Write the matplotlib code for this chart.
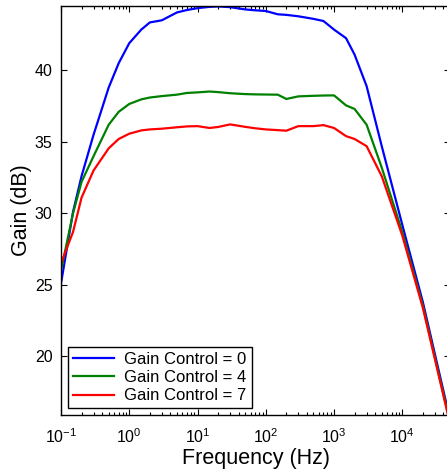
import numpy as np
import matplotlib
matplotlib.use("Agg")
import matplotlib.pyplot as plt
from matplotlib.ticker import LogLocator, NullFormatter

plt.rcParams['font.family'] = ['Liberation Sans', 'DejaVu Sans']
plt.rcParams['mathtext.default'] = 'regular'

freq = [0.1, 0.15, 0.2, 0.3, 0.5, 0.7, 1, 1.5, 2, 3, 5, 7, 10, 15, 20, 30, 50, 70,
        100, 150, 200, 300, 500, 700, 1000, 1500, 2000, 3000, 5000, 10000, 20000, 50000]

gain_0 = [25.1, 30.1, 32.6, 35.5, 38.8, 40.5, 41.9, 42.85, 43.35, 43.5, 44.05, 44.22,
          44.35, 44.44, 44.47, 44.42, 44.26, 44.2, 44.15, 43.92, 43.88, 43.78, 43.6, 43.45,
          42.85, 42.25, 41.1, 38.9, 34.7, 29.2, 23.8, 15.6]
gain_4 = [26.0, 30.0, 32.2, 34.0, 36.2, 37.1, 37.65, 37.97, 38.1, 38.2, 38.3, 38.42,
          38.46, 38.52, 38.48, 38.4, 38.34, 38.32, 38.31, 38.3, 38.0, 38.18, 38.22, 38.24,
          38.25, 37.55, 37.3, 36.2, 33.2, 28.7, 23.55, 15.4]
gain_7 = [26.5, 28.7, 31.1, 33.0, 34.55, 35.2, 35.57, 35.8, 35.87, 35.92, 36.02, 36.08,
          36.1, 35.97, 36.04, 36.22, 36.05, 35.95, 35.87, 35.82, 35.78, 36.1, 36.1, 36.17,
          35.97, 35.4, 35.2, 34.7, 32.6, 28.45, 23.4, 15.3]

labels = ['Gain Control = 0', 'Gain Control = 4', 'Gain Control = 7']
colors = ['#0000ff', '#008000', '#ff0000']
yticks = [20, 25, 30, 35, 40]

fig = plt.figure(figsize=(4.47, 4.70), dpi=100)
ax = fig.add_axes([61/447, (470-415)/470, (450-61)/447, (415-6)/470])

for g, lab, c in zip([gain_0, gain_4, gain_7], labels, colors):
    ax.plot(freq, g, color=c, lw=1.6, label=lab)

ax.set_xscale('log')
ax.set_xlim(0.1, 5e4)
ax.set_ylim(15.9, 44.5)
ax.set_yticks(yticks)
ax.xaxis.set_minor_locator(LogLocator(base=10, subs=np.arange(2, 10), numticks=20))
ax.xaxis.set_minor_formatter(NullFormatter())
ax.tick_params(which='both', direction='in', top=True, right=True, labelsize=11.5, width=0.8)
ax.tick_params(which='major', length=4)
ax.tick_params(axis='x', which='major', pad=9)
ax.tick_params(axis='y', which='major', pad=6)
ax.tick_params(which='minor', length=2)
for s in ax.spines.values():
    s.set_linewidth(1.0)

ax.set_xlabel('Frequency (Hz)', fontsize=15.5, labelpad=1)
ax.set_ylabel('Gain (dB)', fontsize=15.5, labelpad=2)

leg = ax.legend(loc='lower left', bbox_to_anchor=(0.0, 0.0), borderaxespad=0.4,
                fontsize=12, fancybox=False, edgecolor='black', framealpha=1,
                handlelength=2.5, labelspacing=0.2, borderpad=0.3, handletextpad=0.6)
leg.get_frame().set_linewidth(1.0)

fig.savefig('out.png', dpi=100)
